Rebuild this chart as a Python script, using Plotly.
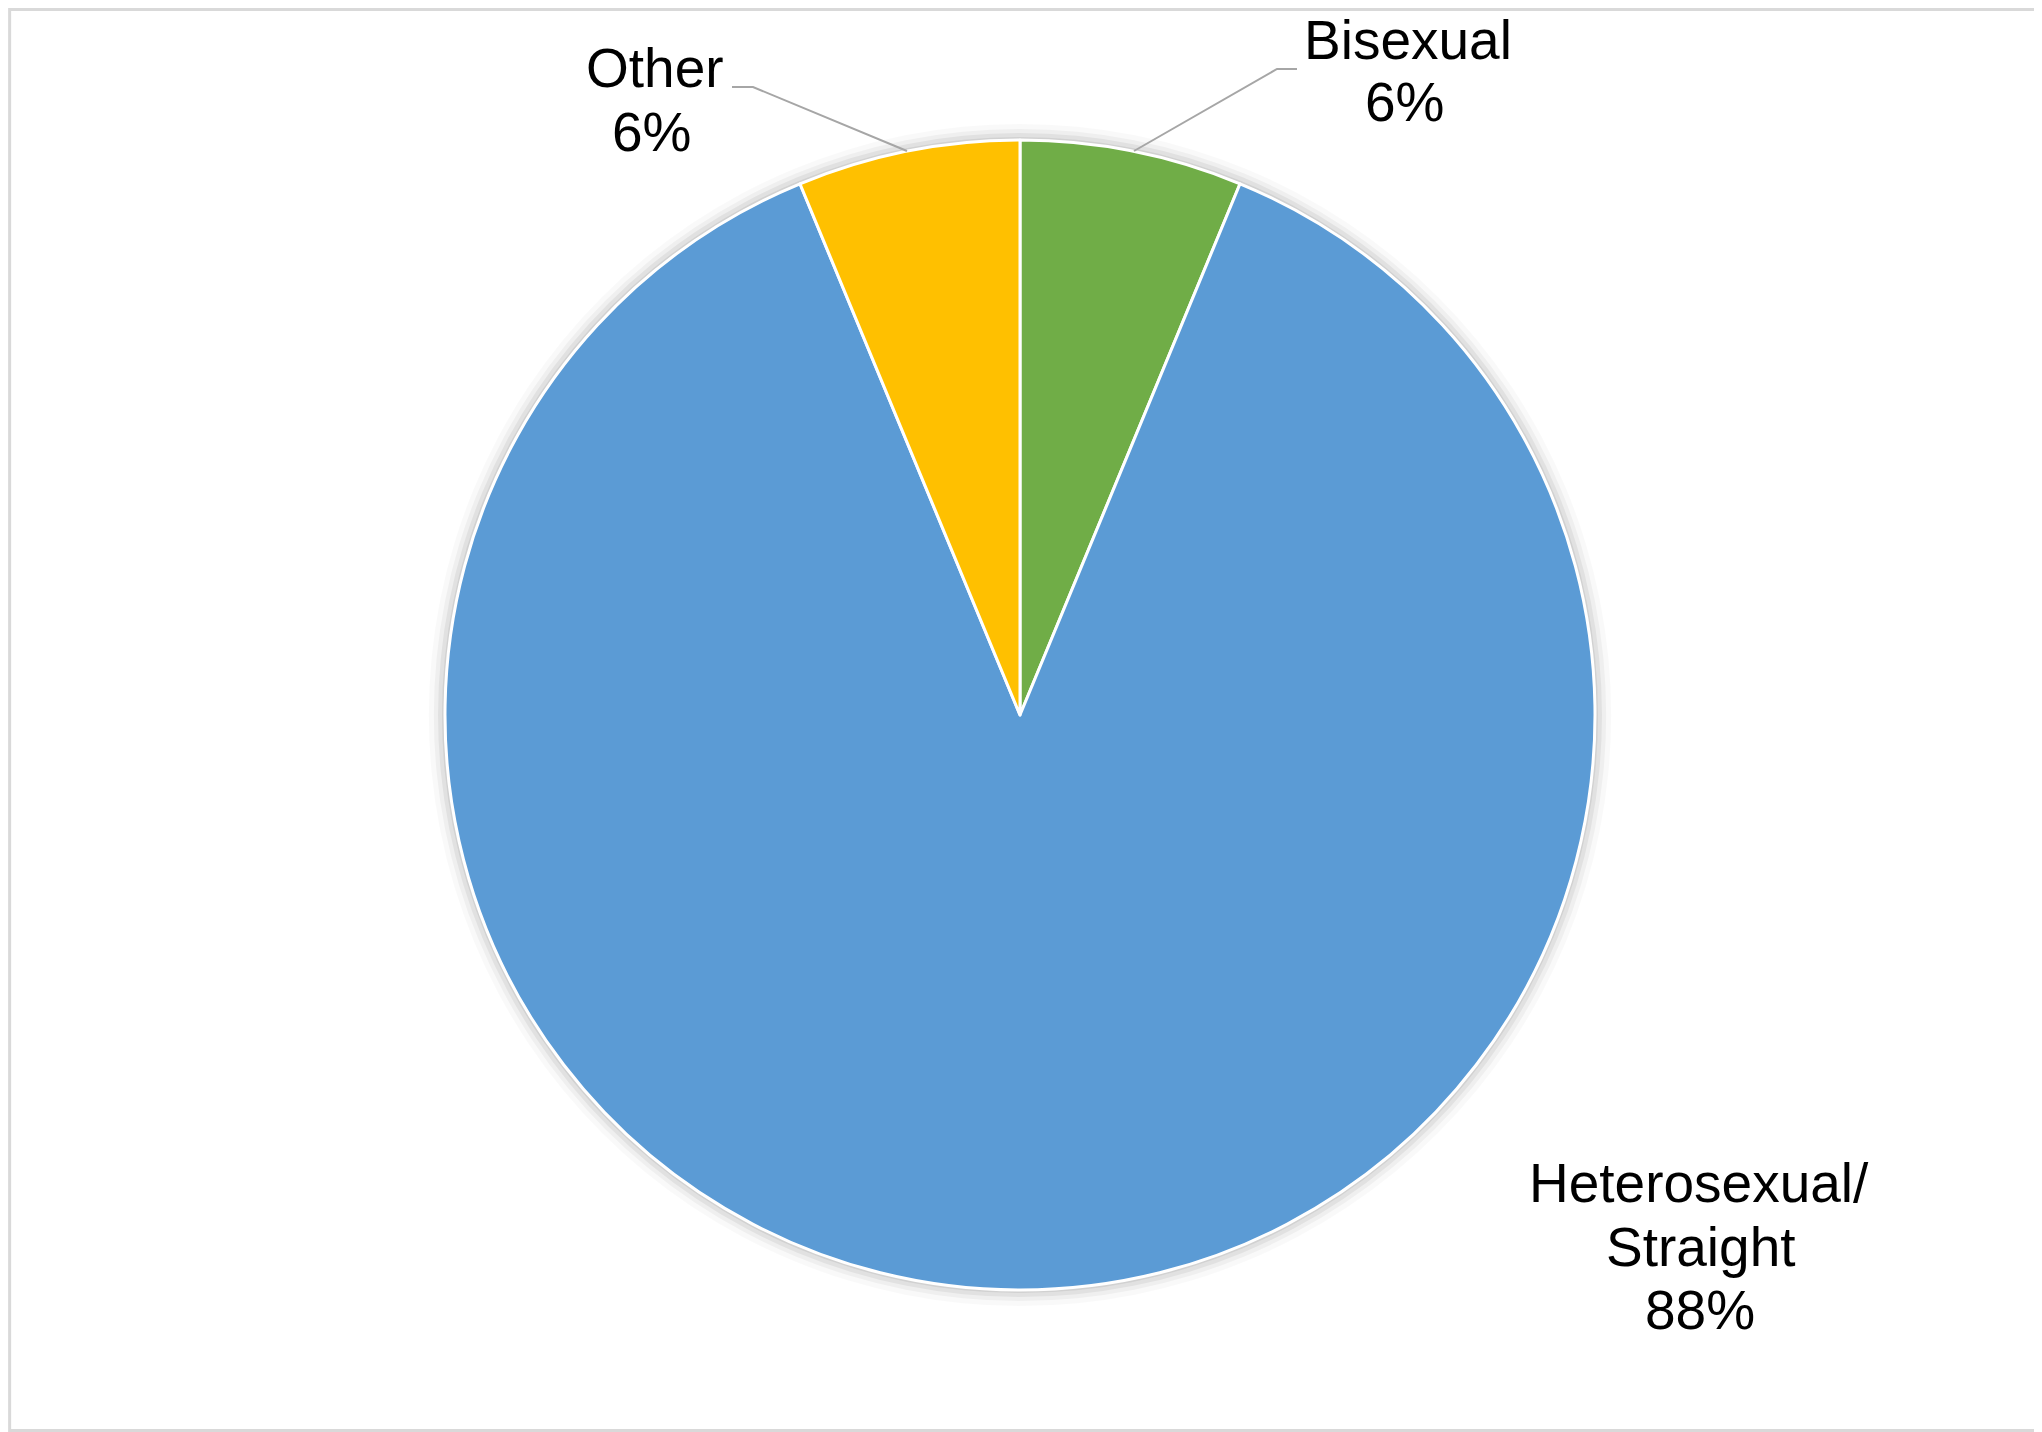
import plotly.graph_objects as go

# data (respondent counts)
labels = ["Bisexual", "Heterosexual/\nStraight", "Other"]
values = [1, 14, 1]
colors = ["#70AD47", "#5B9BD5", "#FFC000"]

# the page puts the figure 8px in from the top-left corner
OFF = 8
W, H = 2042 - OFF, 1432 - OFF
cx, cy, r = 1020, 715, 575  # pie centre / radius in screen pixels


def px(x):
    return (x - OFF) / W


def py(y):
    return 1 - (y - OFF) / H


def domain(rad):
    return dict(x=[px(cx - rad), px(cx + rad)], y=[py(cy + rad), py(cy - rad)])


fig = go.Figure()

# soft shadow around the pie
for k, a in [(16, 0.025), (11, 0.04), (7, 0.055), (3, 0.07)]:
    fig.add_trace(go.Pie(values=[1], domain=domain(r + k), marker=dict(colors=[f"rgba(0,0,0,{a})"]),
                         textinfo="none", hoverinfo="skip", showlegend=False, sort=False))

fig.add_trace(go.Pie(
    labels=labels,
    values=values,
    domain=domain(r),
    sort=False,
    direction="clockwise",
    rotation=0,
    marker=dict(colors=colors, line=dict(color="white", width=3)),
    textinfo="none",
    showlegend=False,
))

# label positions (visual centre of each text line, pixels)
label_pos = {
    "Bisexual": [(1408, 40), (1405, 102)],
    "Heterosexual/\nStraight": [(1699, 1183), (1701, 1247), (1700, 1310)],
    "Other": [(655, 68), (652, 132)],
}
total = sum(values)
annotations = []
for lab, val in zip(labels, values):
    lines = lab.split("\n") + [f"{round(100 * val / total)}%"]
    for text, (x, y) in zip(lines, label_pos[lab]):
        annotations.append(dict(x=px(x), y=py(y), xref="paper", yref="paper", text=text, showarrow=False,
                                xanchor="center", yanchor="middle",
                                font=dict(family="Liberation Sans, Arial", size=55, color="black")))

leader = dict(type="path", xref="paper", yref="paper", line=dict(color="#A6A6A6", width=2))
shapes = [
    dict(leader, path=f"M {px(732)},{py(87)} L {px(753)},{py(87)} L {px(907)},{py(151)}"),
    dict(leader, path=f"M {px(1297)},{py(69)} L {px(1277)},{py(69)} L {px(1134)},{py(151)}"),
    dict(type="rect", xref="paper", yref="paper", x0=0.0008, x1=0.9992, y0=0.001, y1=0.999,
         line=dict(color="#D9D9D9", width=3)),
]

fig.update_layout(
    width=W, height=H,
    margin=dict(l=0, r=0, t=0, b=0),
    paper_bgcolor="white",
    plot_bgcolor="white",
    annotations=annotations,
    shapes=shapes,
)

fig.write_html("out.html")
